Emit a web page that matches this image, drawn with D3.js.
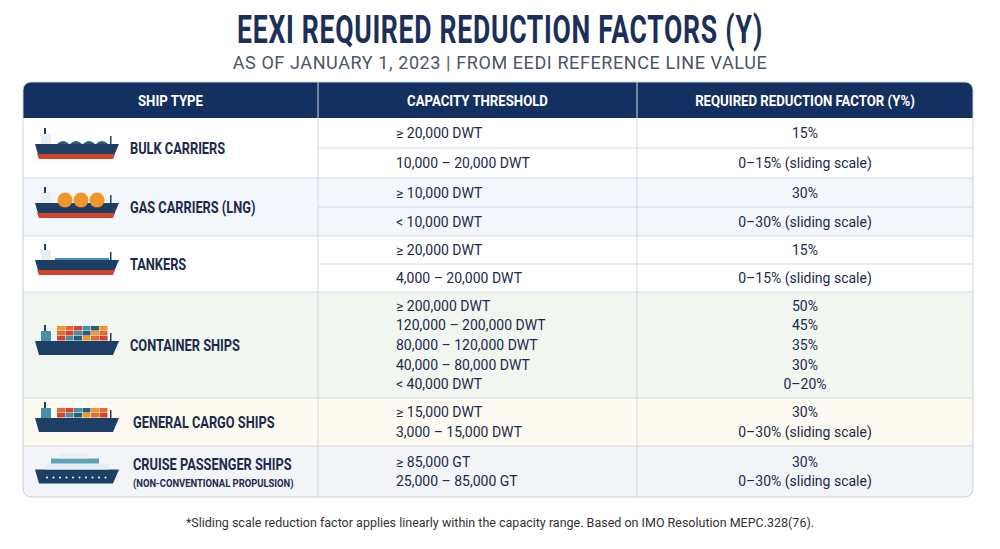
<!DOCTYPE html>
<html><head><meta charset="utf-8">
<script src="https://cdn.jsdelivr.net/npm/d3@7"></script>
<style>body{margin:0;background:#fff}svg{display:block}</style>
</head><body><svg id="c" width="1000" height="549"></svg>
<script>
const headers = ["SHIP TYPE", "CAPACITY THRESHOLD", "REQUIRED REDUCTION FACTOR (Y%)"];
const shipTypes = ["BULK CARRIERS", "GAS CARRIERS (LNG)", "TANKERS", "CONTAINER SHIPS", "GENERAL CARGO SHIPS", "CRUISE PASSENGER SHIPS"];
const shipNotes = ["", "", "", "", "", "(NON-CONVENTIONAL PROPULSION)"];
const thresholds = [
  ["≥ 20,000 DWT", "10,000 – 20,000 DWT"],
  ["≥ 10,000 DWT", "< 10,000 DWT"],
  ["≥ 20,000 DWT", "4,000 – 20,000 DWT"],
  ["≥ 200,000 DWT", "120,000 – 200,000 DWT", "80,000 – 120,000 DWT", "40,000 – 80,000 DWT", "< 40,000 DWT"],
  ["≥ 15,000 DWT", "3,000 – 15,000 DWT"],
  ["≥ 85,000 GT", "25,000 – 85,000 GT"]
];
const factors = [
  ["15%", "0–15% (sliding scale)"],
  ["30%", "0–30% (sliding scale)"],
  ["15%", "0–15% (sliding scale)"],
  ["50%", "45%", "35%", "30%", "0–20%"],
  ["30%", "0–30% (sliding scale)"],
  ["30%", "0–30% (sliding scale)"]
];
const splitRows = [true, true, true, false, false, false];
const rowBg = ["#ffffff", "#f3f6fb", "#ffffff", "#f1f6f1", "#fdfbf1", "#f2f4f8"];
const rowBounds = [118, 178, 236, 292, 398, 446, 497];

const navy = "#143060", text = "#1b2a4a", line = "#d3d9e2";
const svg = d3.select("#c");
const F = "Roboto,sans-serif";
const x0 = 23, x1 = 973, cx = [x0, 318, 637, x1];

// condensed bold label: horizontal squeeze via transform
function label(parent, str, x, y, size, sx, anchor, fill) {
  return parent.append("text").attr("transform", `translate(${x},${y}) scale(${sx},1)`)
    .attr("text-anchor", anchor || "start").attr("font-family", F).attr("font-weight", 700)
    .attr("font-size", size).attr("fill", fill || text).text(str);
}

label(svg, "EEXI REQUIRED REDUCTION FACTORS (Y)", 500, 43, 38, 0.7, "middle", "#1b2f5a").attr("letter-spacing", 1);
svg.append("text").attr("x", 500).attr("y", 69).attr("text-anchor", "middle")
  .attr("font-family", F).attr("font-size", 18).attr("fill", "#4a5568")
  .attr("letter-spacing", 0.6).text("AS OF JANUARY 1, 2023  |  FROM EEDI REFERENCE LINE VALUE");

svg.append("clipPath").attr("id", "tc").append("rect")
  .attr("x", x0).attr("y", 82).attr("width", x1 - x0).attr("height", 497 - 82).attr("rx", 8);
const g = svg.append("g").attr("clip-path", "url(#tc)");
g.append("rect").attr("x", x0).attr("y", 82).attr("width", x1 - x0).attr("height", 36).attr("fill", navy);
headers.forEach((h, i) => label(g, h, (cx[i] + cx[i + 1]) / 2, 106, 15, 0.88, "middle", "#fff"));

shipTypes.forEach((s, i) => {
  const top = rowBounds[i], bot = rowBounds[i + 1], n = thresholds[i].length;
  g.append("rect").attr("x", x0).attr("y", top).attr("width", x1 - x0).attr("height", bot - top).attr("fill", rowBg[i]);
  const mid = (top + bot) / 2;
  const tx = i >= 4 ? 133 : 130;
  label(g, s, tx, shipNotes[i] ? mid - 2 : mid + 6, 16, 0.8);
  if (shipNotes[i]) label(g, shipNotes[i], tx, mid + 15, 11.5, 0.82);
  let ys;
  if (splitRows[i]) {
    const y = d3.scaleBand().domain(d3.range(n)).range([top, bot]);
    ys = d3.range(n).map(k => y(k) + y.bandwidth() / 2 + 5);
    g.append("line").attr("x1", cx[1]).attr("x2", x1).attr("y1", y(1)).attr("y2", y(1)).attr("stroke", line);
  } else {
    const y = d3.scalePoint().domain(d3.range(n)).range([mid - (n - 1) * 9.8, mid + (n - 1) * 9.8]);
    ys = d3.range(n).map(k => y(k) + 5);
  }
  thresholds[i].forEach((t, k) => g.append("text").attr("x", 396).attr("y", ys[k])
    .attr("font-family", F).attr("font-size", 14).attr("fill", text).text(t));
  factors[i].forEach((t, k) => g.append("text").attr("x", 805).attr("y", ys[k]).attr("text-anchor", "middle")
    .attr("font-family", F).attr("font-size", 14).attr("fill", text).text(t));
  if (i > 0) g.append("line").attr("x1", x0).attr("x2", x1).attr("y1", top).attr("y2", top).attr("stroke", line).attr("stroke-width", 1.2);
  drawShip(i, 35, mid);
});
[1, 2].forEach(i => g.append("line").attr("x1", cx[i]).attr("x2", cx[i]).attr("y1", 82).attr("y2", 497)
  .attr("stroke", line).attr("stroke-width", 1));
svg.append("rect").attr("x", x0).attr("y", 82).attr("width", x1 - x0).attr("height", 415).attr("rx", 8)
  .attr("fill", "none").attr("stroke", "#c9d0da");

svg.append("text").attr("x", 500).attr("y", 527).attr("text-anchor", "middle")
  .attr("font-family", F).attr("font-size", 12.5).attr("fill", "#333")
  .text("*Sliding scale reduction factor applies linearly within the capacity range. Based on IMO Resolution MEPC.328(76).");

function drawShip(type, x, my) {
  const s = g.append("g").attr("transform", `translate(${x},${my})`);
  const hullY = type === 5 ? 4 : 2;
  s.append("path").attr("d", `M0,${hullY - 6} L84,${hullY - 6} L78,${hullY + 8} L4,${hullY + 8} Z`).attr("fill", "#1d3f66");
  if (type <= 2) s.append("path").attr("d", `M2,${hullY + 4} L80,${hullY + 4} L78,${hullY + 9} L4,${hullY + 9} Z`).attr("fill", "#d2452c");
  if (type !== 5) {
    s.append("rect").attr("x", 6).attr("y", hullY - 16).attr("width", 10).attr("height", 10).attr("fill", type < 3 ? "#e9eef2" : "#4a8fa8");
    s.append("rect").attr("x", 9).attr("y", hullY - 22).attr("width", 2).attr("height", 6).attr("fill", "#1d3f66");
    s.append("rect").attr("x", 75).attr("y", hullY - 14).attr("width", 1.5).attr("height", 8).attr("fill", "#1d3f66");
  }
  if (type === 0) [0, 1, 2, 3].forEach(k => s.append("path")
    .attr("d", `M${22 + k * 13},${hullY - 6} q6,-6 12,0 Z`).attr("fill", "#2b5d7a"));
  if (type === 1) [0, 1, 2].forEach(k => s.append("circle").attr("cx", 30 + k * 16).attr("cy", hullY - 9).attr("r", 7.5).attr("fill", "#f0962c"));
  if (type === 2) s.append("rect").attr("x", 20).attr("y", hullY - 8).attr("width", 54).attr("height", 2).attr("fill", "#4a8fa8");
  if (type === 3 || type === 4) {
    const cols = ["#d2452c", "#f0962c", "#4a8fa8", "#e06a3a", "#2b5d7a"];
    const stacks = type === 3 ? 3 : 2;
    for (let r = 0; r < stacks; r++) for (let c = 0; c < 6; c++)
      s.append("rect").attr("x", 22 + c * 8.5).attr("y", hullY - 11 - r * 5).attr("width", 8).attr("height", 4.5)
        .attr("fill", cols[(r * 3 + c * 2) % 5]);
  }
  if (type === 5) {
    s.append("rect").attr("x", 10).attr("y", hullY - 12).attr("width", 64).attr("height", 6).attr("fill", "#e9eef4");
    s.append("rect").attr("x", 16).attr("y", hullY - 17).attr("width", 48).attr("height", 5).attr("fill", "#5fa2b8");
    s.append("rect").attr("x", 24).attr("y", hullY - 22).attr("width", 30).attr("height", 5).attr("fill", "#e9eef4");
    d3.range(10).forEach(k => s.append("circle").attr("cx", 12 + k * 6.5).attr("cy", hullY + 2).attr("r", 1).attr("fill", "#fff"));
  }
}
</script></body></html>
